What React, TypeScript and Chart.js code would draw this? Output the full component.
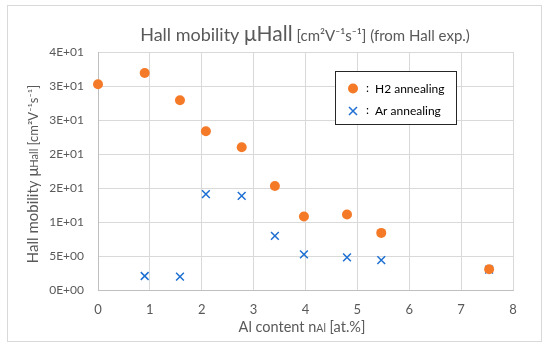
import React, { useEffect, useRef } from 'react';
import { Chart, registerables } from 'chart.js';

Chart.register(...registerables);

// ---- data ----
const h2X = [0, 0.9, 1.58, 2.08, 2.77, 3.41, 3.97, 4.8, 5.46, 7.54];
const h2Y = [30.25, 31.9, 27.9, 23.35, 21.0, 15.3, 10.8, 11.1, 8.4, 3.04];
const arX = [0.9, 1.58, 2.08, 2.77, 3.41, 3.97, 4.8, 5.46, 7.54];
const arY = [2.06, 1.96, 14.1, 13.85, 7.97, 5.24, 4.8, 4.4, 3.0];
const yTickValues = [0, 5, 10, 15, 20, 25, 30, 35];
const yTickLabels = ['0E+00', '5E+00', '1E+01', '2E+01', '2E+01', '3E+01', '3E+01', '4E+01'];
const xTickLabels = ['0', '1', '2', '3', '4', '5', '6', '7', '8'];
const seriesLabels = ['H2 annealing', 'Ar annealing'];

const FONT = 'Lato, "Open Sans", sans-serif';
const TXT = '#595959';
const ORANGE = '#F57A28';
const BLUE = '#1D6FD2';

type Seg = { t: string; s: number; dy?: number };

function drawRich(ctx: CanvasRenderingContext2D, segs: Seg[], cx: number, y: number) {
  let total = 0;
  const widths = segs.map((g) => {
    ctx.font = `${g.s}px ${FONT}`;
    const w = ctx.measureText(g.t).width;
    total += w;
    return w;
  });
  let x = cx - total / 2;
  ctx.textAlign = 'left';
  ctx.textBaseline = 'alphabetic';
  segs.forEach((g, i) => {
    ctx.font = `${g.s}px ${FONT}`;
    ctx.fillText(g.t, x, y + (g.dy || 0));
    x += widths[i];
  });
}

const decorPlugin = {
  id: 'decor',
  afterDraw(chart: any) {
    const ctx: CanvasRenderingContext2D = chart.ctx;
    ctx.save();
    // outer frame
    ctx.strokeStyle = '#D9D9D9';
    ctx.lineWidth = 1;
    ctx.strokeRect(7.5, 5.5, 534, 336);

    ctx.fillStyle = TXT;
    // title
    drawRich(ctx, [
      { t: 'Hall mobility ', s: 18 },
      { t: '\u03bcHall', s: 21 },
      { t: ' [cm\u00b2V\u207b\u00b9s\u207b\u00b9]', s: 15 },
      { t: ' (from Hall exp.)', s: 15 },
    ], 305, 41);

    // x axis title
    drawRich(ctx, [
      { t: 'Al content n', s: 14.5 },
      { t: 'Al', s: 10.5 },
      { t: ' [at.%]', s: 14.5 },
    ], 302, 332);

    // y axis title
    ctx.save();
    ctx.translate(38, 174);
    ctx.rotate(-Math.PI / 2);
    drawRich(ctx, [
      { t: 'Hall mobility \u03bc', s: 15 },
      { t: 'Hall', s: 11 },
      { t: ' [cm\u00b2V\u207b\u00b9s\u207b\u00b9]', s: 13 },
    ], 0, 0);
    ctx.restore();

    // legend box
    ctx.fillStyle = '#FFFFFF';
    ctx.fillRect(335.5, 71.5, 121, 53);
    ctx.strokeStyle = '#262626';
    ctx.strokeRect(335.5, 71.5, 121, 53);

    // item 1: circle
    ctx.fillStyle = ORANGE;
    ctx.beginPath();
    ctx.arc(353, 88.5, 5, 0, Math.PI * 2);
    ctx.fill();
    // item 2: cross
    ctx.strokeStyle = BLUE;
    ctx.lineWidth = 1.5;
    ctx.beginPath();
    ctx.moveTo(349, 107);
    ctx.lineTo(357, 115);
    ctx.moveTo(357, 107);
    ctx.lineTo(349, 115);
    ctx.stroke();

    ctx.fillStyle = '#000000';
    ctx.font = `12px ${FONT}`;
    ctx.textAlign = 'left';
    ctx.textBaseline = 'middle';
    ctx.fillText(':', 366, 88.5);
    ctx.fillText(seriesLabels[0], 375, 89);
    ctx.fillText(':', 366, 110.5);
    ctx.fillText(seriesLabels[1], 375, 111);
    ctx.restore();
  },
};

export default function App() {
  const ref = useRef<HTMLCanvasElement | null>(null);
  useEffect(() => {
    document.body.style.margin = '0';
    const canvas = ref.current;
    if (!canvas) return;
    const chart = new Chart(canvas, {
      type: 'scatter',
      data: {
        datasets: [
          {
            label: seriesLabels[0],
            data: h2X.map((x, i) => ({ x, y: h2Y[i] })),
            backgroundColor: ORANGE,
            borderColor: ORANGE,
            pointStyle: 'circle',
            pointRadius: 5,
            pointHoverRadius: 5,
            borderWidth: 0,
            clip: false,
          } as any,
          {
            label: seriesLabels[1],
            data: arX.map((x, i) => ({ x, y: arY[i] })),
            backgroundColor: BLUE,
            borderColor: BLUE,
            pointStyle: 'crossRot',
            pointRadius: 5.5,
            pointHoverRadius: 5.5,
            borderWidth: 1.5,
            clip: false,
          } as any,
        ],
      },
      options: {
        animation: false,
        responsive: false,
        maintainAspectRatio: false,
        layout: { padding: { top: 52, right: 37, left: 0, bottom: 0 } },
        plugins: { legend: { display: false }, tooltip: { enabled: false }, title: { display: false } },
        scales: {
          x: {
            type: 'linear',
            min: 0,
            max: 8,
            afterFit: (s: any) => { s.height = 60; },
            ticks: {
              stepSize: 1,
              padding: 12,
              color: TXT,
              font: { family: FONT, size: 13 },
              maxRotation: 0,
              callback: (v: any) => xTickLabels[Number(v)] ?? '',
            },
            grid: { color: '#D9D9D9', drawTicks: false },
            border: { color: '#BFBFBF' },
          },
          y: {
            type: 'linear',
            min: 0,
            max: 35,
            afterFit: (s: any) => { s.width = 98; },
            ticks: {
              stepSize: 5,
              padding: 14,
              color: TXT,
              font: { family: FONT, size: 12 },
              callback: (v: any) => {
                const i = yTickValues.indexOf(Number(v));
                return i >= 0 ? yTickLabels[i] : '';
              },
            },
            grid: { color: '#D9D9D9', drawTicks: false },
            border: { color: '#BFBFBF' },
          },
        },
      },
      plugins: [decorPlugin],
    });
    return () => chart.destroy();
  }, []);
  return (
    <div style={{ width: 550, height: 350, background: '#fff' }}>
      <canvas ref={ref} width={550} height={350} />
    </div>
  );
}
